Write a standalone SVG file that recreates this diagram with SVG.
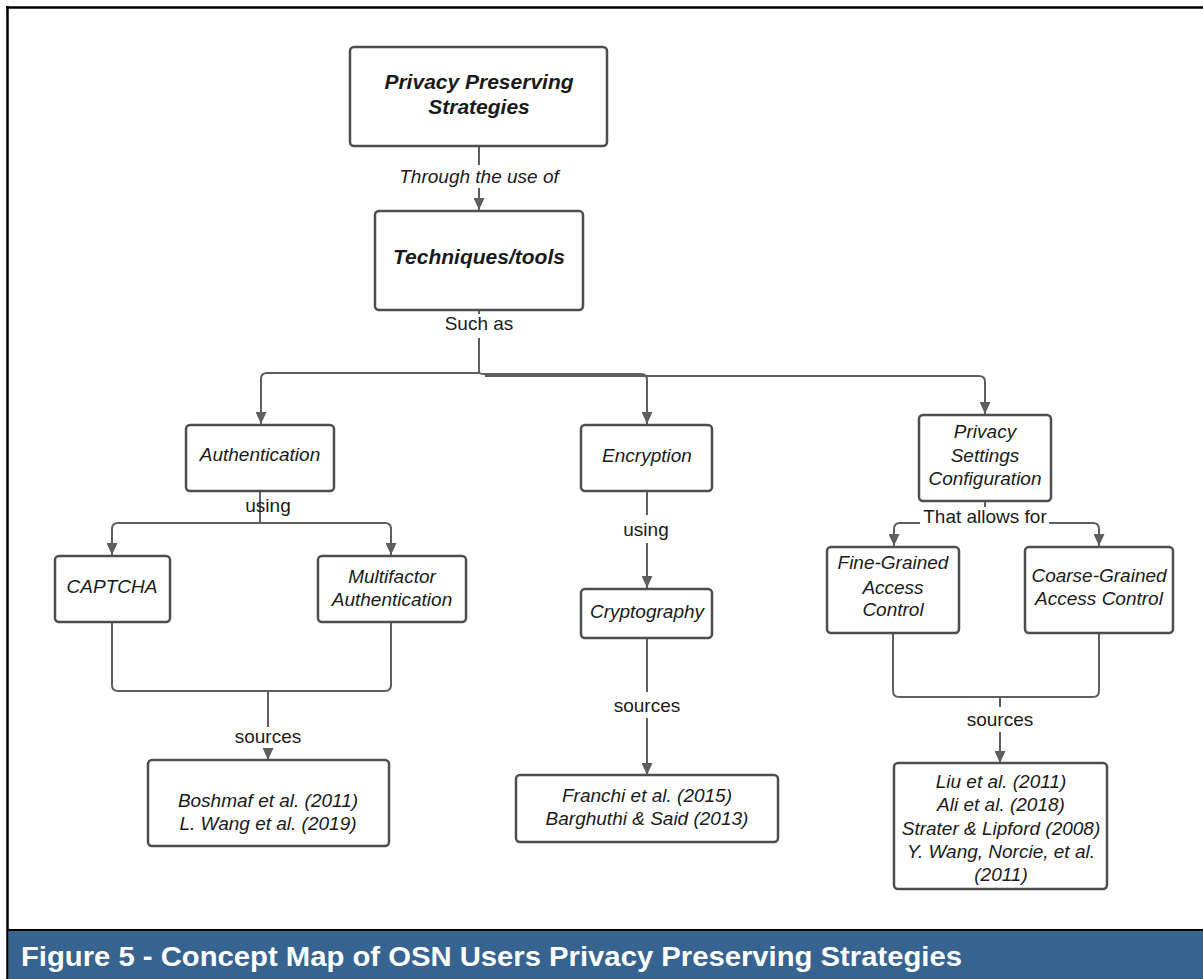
<svg xmlns="http://www.w3.org/2000/svg" width="1203" height="979" viewBox="0 0 1203 979">
  <style>
    .box { fill: #ffffff; stroke: #4d4d4d; stroke-width: 2.5; }
    .wire { fill: none; stroke: #5e5e5e; stroke-width: 2; }
    .t { font-family: "Liberation Sans", Arial, sans-serif; font-size: 19px; fill: #1a1a1a; text-anchor: middle; }
    .it { font-style: italic; }
    .bi { font-style: italic; font-weight: bold; font-size: 21px; }
    .cap { font-family: "Liberation Sans", Arial, sans-serif; font-weight: bold; font-size: 27px; fill: #ffffff; }
  </style>
  <defs>
    <marker id="arrow" markerUnits="userSpaceOnUse" markerWidth="12" markerHeight="11" refX="12" refY="5.5" orient="auto">
      <path d="M0,0 L12,5.5 L0,11 z" fill="#5e5e5e"/>
    </marker>
  </defs>

  <!-- page frame -->
  <rect x="0" y="0" width="1203" height="979" fill="#ffffff"/>
  <line x1="6" y1="7.5" x2="1203" y2="7.5" stroke="#000" stroke-width="2.5"/>
  <line x1="7.5" y1="6" x2="7.5" y2="979" stroke="#000" stroke-width="2.5"/>
  <line x1="7" y1="930" x2="1203" y2="930" stroke="#000" stroke-width="2"/>
  <rect x="8.7" y="931" width="1195" height="48" fill="#36638f"/>
  <text class="cap" x="21" y="966" textLength="941" lengthAdjust="spacingAndGlyphs">Figure 5 - Concept Map of OSN Users Privacy Preserving Strategies</text>

  <!-- connectors -->
  <g id="connectors">
    <path class="wire" d="M479,146 V165"/>
    <path class="wire" d="M479,188 V210" marker-end="url(#arrow)"/>
    <path class="wire" d="M479,310 V314"/>
    <path class="wire" d="M479,338 V373 H267 Q261,373 261,379 V424" marker-end="url(#arrow)"/>
    <path class="wire" d="M479,372 Q479,374 485,374 H641 Q647,374 647,380 V424" marker-end="url(#arrow)"/>
    <path class="wire" d="M485,376 H979 Q985,376 985,382 V414" marker-end="url(#arrow)"/>

    <path class="wire" d="M260,491 V523"/>
    <path class="wire" d="M260,523 H118 Q112,523 112,529 V555" marker-end="url(#arrow)"/>
    <path class="wire" d="M260,523 H385 Q391,523 391,529 V555" marker-end="url(#arrow)"/>
    <path class="wire" d="M112,622 V685 Q112,691 118,691 H385 Q391,691 391,685 V622"/>
    <path class="wire" d="M268,691 V727"/>
    <path class="wire" d="M268,748 V760" marker-end="url(#arrow)"/>

    <path class="wire" d="M647,491 V515"/>
    <path class="wire" d="M647,543 V588" marker-end="url(#arrow)"/>
    <path class="wire" d="M647,638 V692"/>
    <path class="wire" d="M647,718 V775" marker-end="url(#arrow)"/>

    <path class="wire" d="M985,501 V507"/>
    <path class="wire" d="M920,523 H900 Q894,523 894,529 V546" marker-end="url(#arrow)"/>
    <path class="wire" d="M1049,523 H1093 Q1099,523 1099,529 V546" marker-end="url(#arrow)"/>
    <path class="wire" d="M893,633 V691 Q893,697 899,697 H1093 Q1099,697 1099,691 V633"/>
    <path class="wire" d="M1000,697 V707"/>
    <path class="wire" d="M1000,732 V763" marker-end="url(#arrow)"/>
  </g>

  <!-- connector labels -->
  <g id="labels">
    <text class="t it" x="479" y="183">Through the use of</text>
    <text class="t" x="479" y="330">Such as</text>
    <text class="t" x="268" y="512">using</text>
    <text class="t" x="646" y="536">using</text>
    <text class="t" x="985" y="523">That allows for</text>
    <text class="t" x="268" y="743">sources</text>
    <text class="t" x="647" y="712">sources</text>
    <text class="t" x="1000" y="726">sources</text>
  </g>

  <!-- nodes -->
  <g id="strategies">
    <rect class="box" x="350" y="47" width="257" height="99" rx="4"/>
    <text class="t bi" x="479" y="89">Privacy Preserving</text>
    <text class="t bi" x="479" y="114">Strategies</text>
  </g>
  <g id="techniques">
    <rect class="box" x="375" y="211" width="208" height="99" rx="4"/>
    <text class="t bi" x="479" y="264">Techniques/tools</text>
  </g>
  <g id="authentication">
    <rect class="box" x="186" y="425" width="148" height="66" rx="4"/>
    <text class="t it" x="260" y="461">Authentication</text>
  </g>
  <g id="encryption">
    <rect class="box" x="581" y="425" width="131" height="66" rx="4"/>
    <text class="t it" x="647" y="462">Encryption</text>
  </g>
  <g id="privacy-settings">
    <rect class="box" x="919" y="415" width="132" height="86" rx="4"/>
    <text class="t it" x="985" y="438">Privacy</text>
    <text class="t it" x="985" y="462">Settings</text>
    <text class="t it" x="985" y="485">Configuration</text>
  </g>
  <g id="captcha">
    <rect class="box" x="55" y="556" width="115" height="66" rx="4"/>
    <text class="t it" x="112" y="593">CAPTCHA</text>
  </g>
  <g id="multifactor">
    <rect class="box" x="318" y="556" width="148" height="66" rx="4"/>
    <text class="t it" x="392" y="583">Multifactor</text>
    <text class="t it" x="392" y="606">Authentication</text>
  </g>
  <g id="cryptography">
    <rect class="box" x="581" y="589" width="131" height="49" rx="4"/>
    <text class="t it" x="647" y="618">Cryptography</text>
  </g>
  <g id="fine-grained">
    <rect class="box" x="827" y="547" width="132" height="86" rx="4"/>
    <text class="t it" x="893" y="569">Fine-Grained</text>
    <text class="t it" x="893" y="594">Access</text>
    <text class="t it" x="893" y="616">Control</text>
  </g>
  <g id="coarse-grained">
    <rect class="box" x="1025" y="547" width="148" height="86" rx="4"/>
    <text class="t it" x="1099" y="582">Coarse-Grained</text>
    <text class="t it" x="1099" y="605">Access Control</text>
  </g>
  <g id="auth-sources">
    <rect class="box" x="148" y="760" width="241" height="86" rx="4"/>
    <text class="t it" x="268" y="807">Boshmaf et al. (2011)</text>
    <text class="t it" x="268" y="830">L. Wang et al. (2019)</text>
  </g>
  <g id="crypto-sources">
    <rect class="box" x="516" y="775" width="262" height="67" rx="4"/>
    <text class="t it" x="647" y="802">Franchi et al. (2015)</text>
    <text class="t it" x="647" y="825">Barghuthi &amp; Said (2013)</text>
  </g>
  <g id="access-sources">
    <rect class="box" x="894" y="763" width="213" height="126" rx="4"/>
    <text class="t it" x="1001" y="788">Liu et al. (2011)</text>
    <text class="t it" x="1001" y="811">Ali et al. (2018)</text>
    <text class="t it" x="1001" y="835">Strater &amp; Lipford (2008)</text>
    <text class="t it" x="1001" y="858">Y. Wang, Norcie, et al.</text>
    <text class="t it" x="1001" y="881">(2011)</text>
  </g>
</svg>
